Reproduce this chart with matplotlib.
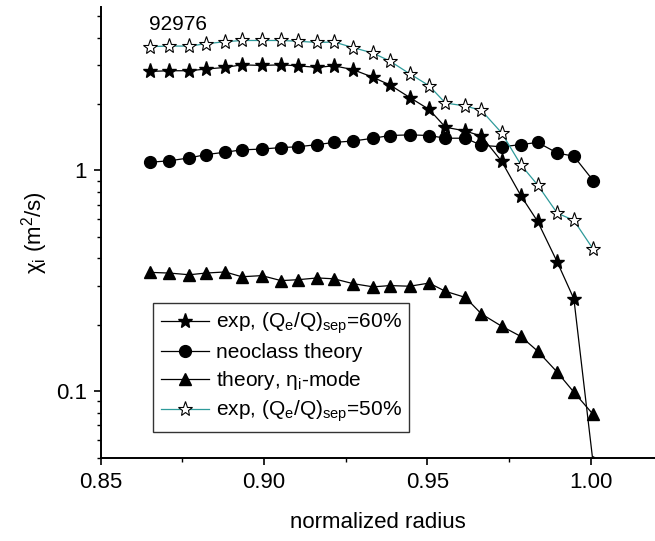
import matplotlib
matplotlib.use("Agg")
import matplotlib.pyplot as plt
from matplotlib.ticker import FixedLocator, NullFormatter, LogLocator

plt.rcParams['font.family'] = ['Liberation Sans', 'DejaVu Sans']
plt.rcParams['mathtext.default'] = 'regular'

radius = [0.8651, 0.8710, 0.8771, 0.8822, 0.8881, 0.8932, 0.8993, 0.9052, 0.9103,
          0.9163, 0.9214, 0.9273, 0.9334, 0.9385, 0.9446, 0.9505, 0.9555, 0.9616,
          0.9665, 0.9727, 0.9786, 0.9837, 0.9897, 0.9948, 1.0007]

exp60 = [2.81, 2.83, 2.83, 2.88, 2.93, 3.01, 2.99, 3.01, 2.98, 2.93, 2.98, 2.86,
         2.64, 2.44, 2.14, 1.89, 1.57, 1.51, 1.43, 1.10, 0.768, 0.588, 0.385,
         0.262, 0.047]
neoclass = [1.09, 1.106, 1.14, 1.18, 1.21, 1.24, 1.25, 1.27, 1.28, 1.31, 1.34,
            1.36, 1.40, 1.44, 1.45, 1.44, 1.40, 1.40, 1.30, 1.28, 1.31, 1.34,
            1.20, 1.16, 0.90]
eta_mode = [0.3455, 0.343, 0.337, 0.343, 0.347, 0.330, 0.334, 0.317, 0.320,
            0.326, 0.323, 0.307, 0.297, 0.301, 0.299, 0.309, 0.2835, 0.266,
            0.224, 0.197, 0.177, 0.152, 0.122, 0.099, 0.0785]
exp50 = [3.64, 3.66, 3.66, 3.75, 3.83, 3.88, 3.88, 3.88, 3.85, 3.80, 3.82, 3.60,
         3.40, 3.13, 2.74, 2.42, 2.02, 1.96, 1.87, 1.48, 1.06, 0.86, 0.641,
         0.594, 0.44]

labels = ["exp, (Q$_e$/Q)$_{sep}$=60%", "neoclass theory",
          "theory, η$_i$-mode", "exp, (Q$_e$/Q)$_{sep}$=50%"]
xticks = [0.85, 0.90, 0.95, 1.00]
xtick_labels = ["0.85", "0.90", "0.95", "1.00"]

fig = plt.figure(figsize=(6.55, 5.41), dpi=100)
ax = fig.add_axes([0.1537, 0.154, 0.8457, 0.833])

lw = 0.9
ax.plot(radius, exp60, color='black', lw=lw, marker='*', ms=11,
        mfc='black', mec='black', label=labels[0])
ax.plot(radius, neoclass, color='black', lw=lw, marker='o', ms=8.5,
        mfc='black', mec='black', label=labels[1])
ax.plot(radius, eta_mode, color='black', lw=lw, marker='^', ms=9,
        mfc='black', mec='black', label=labels[2])
ax.plot(radius, exp50, color='#2e9a9a', lw=lw, marker='*', ms=11,
        mfc='white', mec='black', mew=0.8, label=labels[3])

ax.set_yscale('log')
ax.set_xlim(0.85, 1.0195)
ax.set_ylim(0.05, 5.5)

ax.xaxis.set_major_locator(FixedLocator(xticks))
ax.set_xticklabels(xtick_labels)
ax.xaxis.set_minor_locator(FixedLocator([0.875, 0.925, 0.975]))
ax.yaxis.set_major_locator(FixedLocator([0.1, 1.0]))
ax.set_yticklabels(["0.1", "1"])
ax.yaxis.set_minor_locator(LogLocator(base=10, subs=range(2, 10)))
ax.yaxis.set_minor_formatter(NullFormatter())

for s in ['top', 'right']:
    ax.spines[s].set_visible(False)
for s in ['left', 'bottom']:
    ax.spines[s].set_linewidth(1.4)

ax.tick_params(which='major', direction='out', length=5, width=1.2,
               labelsize=16, pad=5)
ax.tick_params(which='minor', direction='out', length=3, width=1.0)

ax.set_xlabel("normalized radius", fontsize=16, labelpad=14)
ax.set_ylabel("χ$_i$ (m$^2$/s)", fontsize=16, labelpad=4)

ax.text(149, 534 - 17, "92976", transform=None, fontsize=15,
        ha='left', va='center')

leg = ax.legend(loc='lower left', bbox_to_anchor=(0.095, 0.0577),
                borderaxespad=0, fontsize=15, frameon=True, fancybox=False,
                edgecolor='black', handlelength=2.3, handletextpad=0.35,
                labelspacing=0.33, borderpad=0.35)
leg.get_frame().set_linewidth(1.0)

fig.savefig("out.png", dpi=100)
